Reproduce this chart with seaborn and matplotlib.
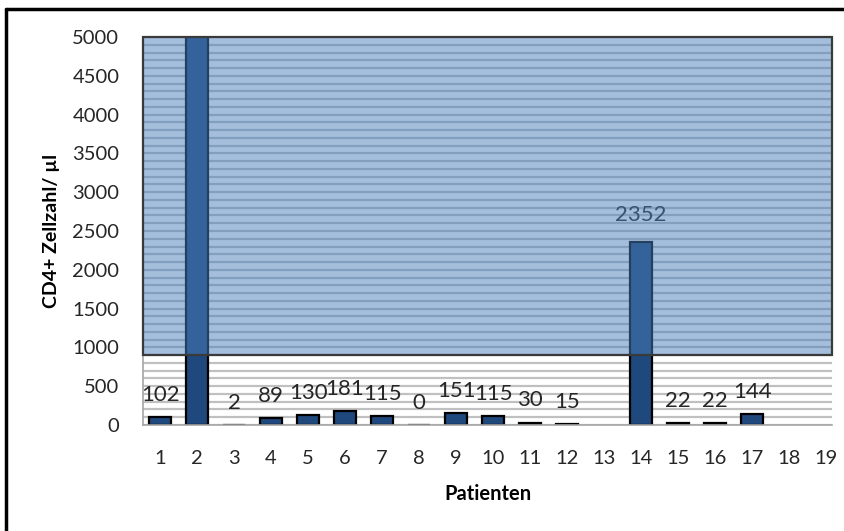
import numpy as np
import pandas as pd
import matplotlib.pyplot as plt
import seaborn as sns
from matplotlib.lines import Line2D

patienten = [str(i) for i in range(1, 20)]
# patient 2 is off the scale (no label in the original), 13/18/19 have no value
zellzahl = [102, 5500, 2, 89, 130, 181, 115, 0, 151, 115, 30, 15, np.nan,
            2352, 22, 22, 144, np.nan, np.nan]
y_max = 5000
grenze = 900

df = pd.DataFrame({'Patienten': patienten, 'Zellzahl': zellzahl})

sns.set_style('white')
plt.rcParams['font.family'] = ['Lato', 'DejaVu Sans']

fig = plt.figure(figsize=(8.44, 5.31), dpi=100)
ax = fig.add_axes([143 / 844, 1 - 425 / 531, 689 / 844, 388 / 531])

sns.barplot(data=df, x='Patienten', y='Zellzahl', order=patienten,
            color='#1F497D', saturation=1, edgecolor='black', linewidth=1.6,
            width=0.6, errorbar=None, ax=ax, zorder=2)

ax.set_ylim(0, y_max)
ax.set_xlim(-0.46, 18.16)
ax.set_yticks(np.arange(0, y_max + 1, 500))
ax.set_yticks(np.arange(0, y_max + 1, 100), minor=True)
ax.grid(axis='y', which='both', color='#C0C0C0', linewidth=1.6, zorder=0)
ax.set_axisbelow(True)
ax.tick_params(axis='both', which='both', length=0, labelsize=14.5,
               colors='#262626')
ax.tick_params(axis='y', pad=17)
ax.tick_params(axis='x', pad=18)

# data labels
for i, v in enumerate(zellzahl):
    if np.isnan(v) or v > y_max:
        continue
    ax.annotate(f'{int(v)}', (i, v), xytext=(0, 16 if v < 1000 else 20),
                textcoords='offset points', ha='center', va='center',
                fontsize=16, color='#262626', zorder=2.5)

# shaded upper region
ax.axhspan(grenze, y_max, facecolor='#4A7EBB', alpha=0.5, linewidth=0, zorder=3)
ax.axhspan(grenze, y_max, fill=False, edgecolor='#3A3A3A', linewidth=1.6,
           zorder=4, clip_on=False)

for s in ['top', 'right']:
    ax.spines[s].set_visible(False)
for s in ['left', 'bottom']:
    ax.spines[s].set_color('#A6A6A6')
    ax.spines[s].set_linewidth(1.2)

ax.set_xlabel('Patienten', fontsize=14.5, fontweight='bold', labelpad=12,
              color='black')
ax.set_ylabel('CD4+ Zellzahl/ µl', fontsize=14, fontweight='bold', labelpad=9,
              color='black')

# outer frame
fig.add_artist(Line2D([6 / 844, 6 / 844], [0, 1 - 9 / 531], color='black', lw=2.5))
fig.add_artist(Line2D([6 / 844, 1], [1 - 9 / 531, 1 - 9 / 531], color='black', lw=2.5))

fig.savefig('out.png', dpi=100)
